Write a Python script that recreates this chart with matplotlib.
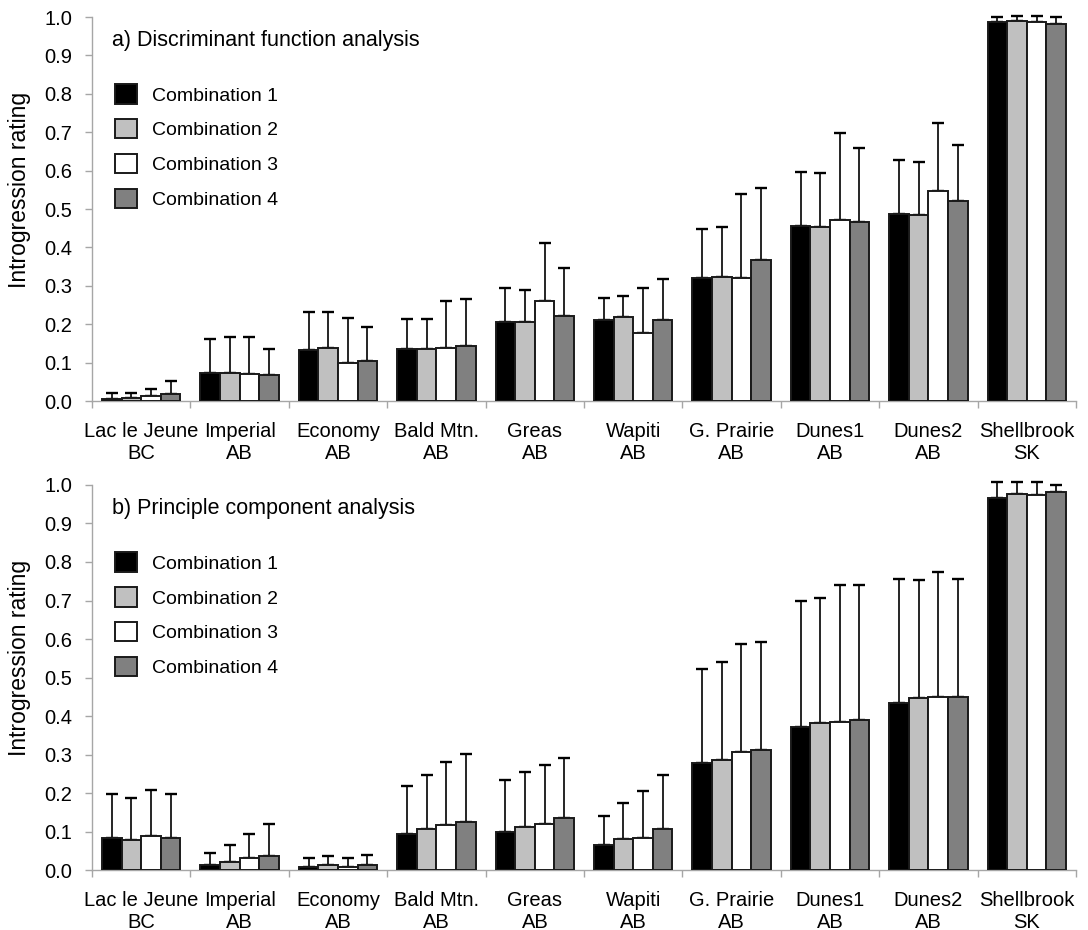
import numpy as np
import matplotlib
matplotlib.use("Agg")
import matplotlib.pyplot as plt
from matplotlib.patches import Patch

plt.rcParams['font.family'] = ['Liberation Sans', 'DejaVu Sans']

# sites (two-line tick labels)
sites = ["Lac le Jeune\nBC", "Imperial\nAB", "Economy\nAB", "Bald Mtn.\nAB", "Greas\nAB",
         "Wapiti\nAB", "G. Prairie\nAB", "Dunes1\nAB", "Dunes2\nAB", "Shellbrook\nSK"]
series = ["Combination 1", "Combination 2", "Combination 3", "Combination 4"]
colors = ["#000000", "#c0c0c0", "#ffffff", "#808080"]

# a) discriminant function analysis: means per combination, then upper error
dfa_c1 = [0.004, 0.072, 0.134, 0.136, 0.207, 0.211, 0.320, 0.456, 0.487, 0.988]
dfa_c2 = [0.009, 0.074, 0.137, 0.136, 0.205, 0.218, 0.324, 0.452, 0.484, 0.990]
dfa_c3 = [0.014, 0.070, 0.100, 0.139, 0.260, 0.176, 0.320, 0.472, 0.547, 0.987]
dfa_c4 = [0.019, 0.067, 0.103, 0.144, 0.221, 0.211, 0.366, 0.466, 0.521, 0.983]
dfa_e1 = [0.018, 0.090, 0.097, 0.078, 0.088, 0.058, 0.129, 0.141, 0.140, 0.012]
dfa_e2 = [0.013, 0.092, 0.094, 0.078, 0.084, 0.055, 0.128, 0.142, 0.139, 0.012]
dfa_e3 = [0.017, 0.096, 0.117, 0.121, 0.151, 0.119, 0.220, 0.225, 0.176, 0.015]
dfa_e4 = [0.032, 0.069, 0.089, 0.122, 0.126, 0.107, 0.190, 0.193, 0.147, 0.017]

# b) principle component analysis
pca_c1 = [0.082, 0.013, 0.008, 0.094, 0.100, 0.065, 0.277, 0.371, 0.434, 0.967]
pca_c2 = [0.079, 0.020, 0.012, 0.107, 0.113, 0.081, 0.286, 0.382, 0.448, 0.977]
pca_c3 = [0.088, 0.030, 0.007, 0.116, 0.119, 0.084, 0.306, 0.384, 0.450, 0.973]
pca_c4 = [0.084, 0.037, 0.012, 0.126, 0.136, 0.106, 0.312, 0.390, 0.450, 0.983]
pca_e1 = [0.115, 0.031, 0.022, 0.125, 0.135, 0.074, 0.246, 0.329, 0.322, 0.041]
pca_e2 = [0.108, 0.044, 0.024, 0.141, 0.141, 0.092, 0.253, 0.325, 0.304, 0.031]
pca_e3 = [0.119, 0.064, 0.023, 0.164, 0.154, 0.122, 0.282, 0.355, 0.324, 0.035]
pca_e4 = [0.113, 0.082, 0.026, 0.176, 0.154, 0.142, 0.279, 0.349, 0.305, 0.016]

panels = [
    ("a) Discriminant function analysis", [dfa_c1, dfa_c2, dfa_c3, dfa_c4], [dfa_e1, dfa_e2, dfa_e3, dfa_e4]),
    ("b) Principle component analysis", [pca_c1, pca_c2, pca_c3, pca_c4], [pca_e1, pca_e2, pca_e3, pca_e4]),
]

fig = plt.figure(figsize=(10.88, 9.30), dpi=100)
ax_a = fig.add_axes([0.0846, 0.5688, 0.9044, 0.4129])
ax_b = fig.add_axes([0.0846, 0.0645, 0.9044, 0.4140])

x = np.arange(len(sites))
w = 0.199
axis_grey = "#a6a6a6"

for ax, (title, means, errs) in zip([ax_a, ax_b], panels):
    for i in range(4):
        pos = x + (i - 1.5) * w
        ax.bar(pos, means[i], width=w, color=colors[i], edgecolor="#1a1a1a",
               linewidth=1.4, zorder=3)
        ax.errorbar(pos, means[i], yerr=[np.zeros(len(sites)), errs[i]], fmt="none",
                    ecolor="black", elinewidth=1.2, capsize=4, capthick=1.7,
                    zorder=2, clip_on=False)

    ax.set_xlim(-0.5, len(sites) - 0.5)
    ax.set_ylim(0, 1.0)
    ax.set_yticks(np.arange(0, 1.01, 0.1))
    ax.set_yticklabels([f"{v:.1f}" for v in np.arange(0, 1.01, 0.1)], fontsize=14.5)
    ax.set_xticks(x)
    ax.set_xticklabels(sites, fontsize=14.5, linespacing=1.22)
    ax.set_xticks(np.arange(-0.5, len(sites)), minor=True)
    ax.tick_params(axis="x", which="major", length=0, pad=15)
    ax.tick_params(axis="x", which="minor", length=5, color=axis_grey, width=1)
    ax.tick_params(axis="y", length=5, color=axis_grey, width=1, pad=9)

    for s in ["top", "right"]:
        ax.spines[s].set_visible(False)
    for s in ["left", "bottom"]:
        ax.spines[s].set_color(axis_grey)
        ax.spines[s].set_linewidth(1)

    ax.set_ylabel("Introgression rating", fontsize=16.5)
    ax.yaxis.set_label_coords(-0.062, 0.55)
    ax.text(0.02, 0.938, title, transform=ax.transAxes, fontsize=15.5,
            ha="left", va="center")

    handles = [Patch(facecolor=c, edgecolor="#1a1a1a", linewidth=1.4) for c in colors]
    ax.legend(handles, series, loc="upper left", bbox_to_anchor=(0.015, 0.845),
              frameon=False, fontsize=14, handlelength=1.15, handleheight=1.15,
              handletextpad=0.75, labelspacing=0.75, borderaxespad=0)

fig.savefig("out.png", dpi=100)
